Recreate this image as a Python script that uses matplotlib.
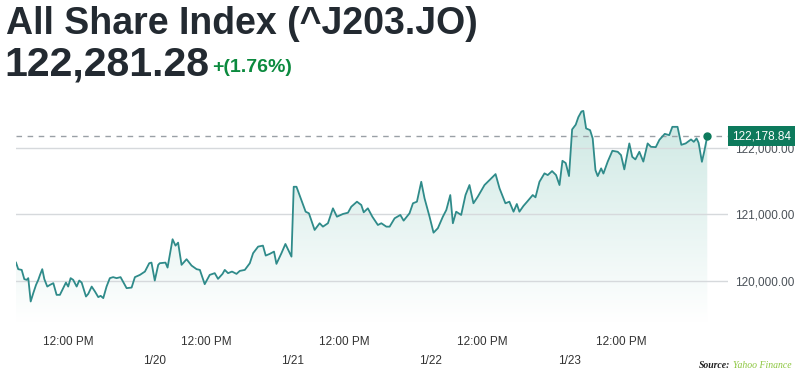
import matplotlib
matplotlib.use("Agg")
import matplotlib.pyplot as plt
import numpy as np
from matplotlib.patches import Polygon

# trading hours since open of the first session (8 trading hours per day)
hours = [0.00, 0.13, 0.33, 0.48, 0.62, 0.71, 0.85, 1.00, 1.16, 1.29, 1.39, 1.52, 1.64, 1.81, 1.97,
         2.16, 2.35, 2.54, 2.73, 2.89, 3.02, 3.16, 3.31, 3.51, 3.66, 3.80, 4.05, 4.18, 4.38, 4.57,
         4.76, 4.90, 5.05, 5.24, 5.43, 5.62, 5.82, 6.05, 6.40, 6.69, 6.88, 7.17, 7.46, 7.71, 7.84,
         8.03, 8.23, 8.32, 8.65, 8.77, 9.06, 9.23, 9.38, 9.58, 9.87, 10.16, 10.45, 10.64, 10.92, 11.21,
         11.50, 11.69, 11.95, 12.08, 12.27, 12.50, 12.76, 12.95, 13.24, 13.53, 13.72, 14.01, 14.29, 14.45, 14.68,
         14.93, 15.07, 15.36, 15.59, 15.94, 16.07, 16.23, 16.51, 16.76, 16.95, 17.28, 17.57, 17.76, 18.05, 18.34,
         18.57, 18.92, 19.21, 19.40, 19.73, 19.98, 20.12, 20.36, 20.62, 20.94, 21.14, 21.43, 21.62, 21.91, 22.24,
         22.43, 22.77, 22.97, 23.20, 23.45, 23.64, 23.93, 24.16, 24.41, 24.70, 24.90, 25.13, 25.28, 25.47, 25.76,
         26.01, 26.24, 26.47, 26.72, 27.11, 27.30, 27.50, 27.75, 27.98, 28.32, 28.55, 28.79, 28.98, 29.13, 29.36,
         29.61, 29.90, 30.06, 30.29, 30.58, 30.77, 31.02, 31.25, 31.45, 31.62, 31.81, 32.00, 32.18, 32.39, 32.54,
         32.72, 32.83, 32.99, 33.22, 33.37, 33.53, 33.66, 33.86, 33.99, 34.24, 34.51, 34.82, 35.01, 35.20, 35.49,
         35.66, 35.84, 36.07, 36.30, 36.55, 36.74, 37.02, 37.23, 37.54, 37.80, 37.98, 38.28, 38.50, 38.75, 39.06,
         39.22, 39.38, 39.50, 39.69, 39.83, 40.00]

values = [120275, 120176, 120165, 120026, 120015, 120041, 119689, 119815, 119940, 120015, 120090, 120176, 120026, 119914, 119940,
          119965, 119789, 119789, 119890, 119974, 119914, 120041, 120015, 119914, 120005, 119974, 119764, 119804, 119914, 119839,
          119755, 119774, 119740, 119914, 120041, 120056, 120041, 120056, 119890, 119899, 120056, 120090, 120140, 120266, 120275,
          120005, 120241, 120266, 120275, 120200, 120627, 120531, 120576, 120241, 120326, 120230, 120176, 120165, 119950, 120090,
          120116, 120030, 120105, 120165, 120116, 120140, 120105, 120150, 120165, 120266, 120417, 120516, 120531, 120381, 120406,
          120441, 120256, 120417, 120556, 120365, 121418, 121418, 121218, 121042, 121018, 120767, 120868, 120817, 120868, 121093,
          120967, 121008, 121027, 121117, 121193, 121143, 121033, 121093, 120967, 120842, 120868, 120817, 120817, 120943, 120993,
          120907, 121018, 121169, 121193, 121493, 121244, 120967, 120726, 120793, 120967, 121068, 121293, 120868, 121042, 120993,
          121293, 121444, 121169, 121268, 121444, 121493, 121545, 121609, 121394, 121169, 121193, 121042, 121158, 121042, 121128,
          121203, 121293, 121259, 121493, 121620, 121594, 121654, 121594, 121444, 121809, 121775, 121579, 122282, 122354, 122467,
          122552, 122561, 122297, 122271, 122146, 121669, 121579, 121695, 121617, 121797, 121960, 121945, 121895, 121680, 122071,
          121869, 121830, 121945, 121797, 122071, 122020, 122015, 122125, 122215, 122196, 122321, 122321, 122050, 122071, 122131,
          122095, 122146, 122080, 121794, 121955, 122178.84]

last_price = 122178.84
title = "All Share Index (^J203.JO)"
headline = "122,281.28"
change = "+(1.76%)"
y_ticks = [120000, 121000, 122000]
noon_ticks = [3, 11, 19, 27, 35]
noon_labels = ["12:00 PM"] * 5
day_ticks = [8, 16, 24, 32]
day_labels = ["1/20", "1/21", "1/22", "1/23"]

line_col = "#2f8b8a"
green = "#0d7a5c"
txt = "#232a31"

plt.rcParams['font.family'] = ['Liberation Sans', 'DejaVu Sans']

fig = plt.figure(figsize=(7.97, 3.78), dpi=100)
ax = fig.add_axes([16 / 797, 1 - 322 / 378, 712 / 797, 217 / 378])
ax.set_xlim(0, 41.2)
ax.set_ylim(119380, 122650)

# gradient fill under the line
x = np.array(hours)
y = np.array(values)
grad = np.linspace(1, 0, 256).reshape(-1, 1)
cmap = matplotlib.colors.LinearSegmentedColormap.from_list("g", ["#ffffff", "#cde8e3"])
im = ax.imshow(grad, aspect='auto', cmap=cmap, extent=[0, 41.2, 119380, y.max()],
               origin='upper', zorder=1, vmin=0, vmax=1)
poly = Polygon(np.column_stack([np.r_[x, x[-1], x[0]], np.r_[y, 119380, 119380]]),
               closed=True, transform=ax.transData, facecolor='none', edgecolor='none')
ax.add_patch(poly)
im.set_clip_path(poly)

ax.plot(x, y, color=line_col, lw=1.3, zorder=3)
ax.axhline(last_price, color="#9aa0a6", lw=1, ls=(0, (4, 4)), zorder=2)
ax.plot([x[-1]], [y[-1]], 'o', color=green, ms=5, zorder=4)

ax.set_yticks(y_ticks)
ax.set_yticklabels([f"{v:,.2f}" for v in y_ticks])
ax.yaxis.tick_right()
ax.grid(axis='y', color="#d6d9dc", lw=1, zorder=0)
ax.set_xticks(noon_ticks)
ax.set_xticklabels(noon_labels)
ax.set_xticks(day_ticks, minor=True)
ax.set_xticklabels(day_labels, minor=True)
ax.tick_params(axis='x', which='major', length=0, pad=10, labelsize=8.5, labelcolor="#333333")
ax.tick_params(axis='x', which='minor', length=0, pad=24, labelsize=8.5, labelcolor="#333333")
ax.tick_params(axis='y', length=0, pad=5, labelsize=8.5, labelcolor="#4a5158")
for s in ax.spines.values():
    s.set_visible(False)

# last price tag
ax.text(1.0 + 4 / 712, last_price, f"{last_price:,.2f}", transform=ax.get_yaxis_transform(),
        ha='left', va='center', fontsize=8.5, color='white', zorder=10,
        bbox=dict(boxstyle='square,pad=0.35', facecolor=green, edgecolor='none'))

fig.text(6 / 797, 1 - 24 / 378, title, fontsize=27, fontweight='bold', color=txt, va='center')
fig.text(4 / 797, 1 - 64 / 378, headline, fontsize=29.5, fontweight='bold', color=txt, va='center')
fig.text(212 / 797, 1 - 67 / 378, change, fontsize=14, fontweight='bold', color="#0b8a3e", va='center')

fig.text(730 / 797, 1 - 366 / 378, "Source:", fontsize=7, fontstyle='italic', fontweight='bold',
         color="#222222", va='center', ha='right', family='Liberation Serif')
fig.text(733 / 797, 1 - 366 / 378, "Yahoo Finance", fontsize=7, fontstyle='italic',
         color="#8cc63f", va='center', ha='left', family='Liberation Serif')

fig.savefig("out.png", dpi=100)
